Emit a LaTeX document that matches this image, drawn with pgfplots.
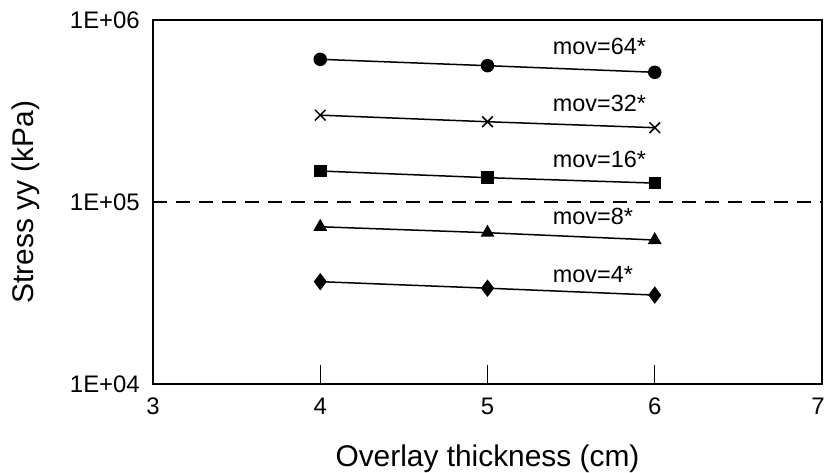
\documentclass[border=0pt]{standalone}
\usepackage{fontspec}
\setmainfont{Liberation Sans}
\usepackage{pgfplots}
\pgfplotsset{compat=1.18}
\begin{document}
\begin{tikzpicture}
\begin{axis}[
  name=ax,
  scale only axis,
  width=669bp, height=364bp,
  xmin=3, xmax=7,
  ymode=log, ymin=1e4, ymax=1e6,
  xtick={3,4,5,6,7},
  xticklabels={3,4,5,6,{\kern-8bp 7}},
  ytick={1e4,1e5,1e6},
  yticklabels={1E+04,1E+05,1E+06},
  tick pos=left,
  tick align=inside,
  xtick style={line width=1.2bp, black},
  major tick length=19bp,
  ytick style={draw=none},
  minor tick num=0,
  axis line style={line width=1.5bp},
  ticklabel style={font=\fontsize{24}{28}\selectfont},
  xticklabel style={anchor=north, inner sep=0pt, yshift=-14bp},
  yticklabel style={anchor=east, inner sep=0pt, xshift=-13bp},
  xlabel={Overlay thickness (cm)},
  ylabel={Stress yy (kPa)},
  label style={font=\fontsize{30}{36}\selectfont},
  xlabel style={at={(axis description cs:0.5,-0.2253)}, anchor=base, inner sep=0pt},
  ylabel style={at={(axis description cs:-0.1898,0.5)}, anchor=center, inner sep=0pt},
  clip=false,
  every axis plot/.append style={black, line width=1.5bp, mark options={solid}},
]
\addplot[line width=1.2bp, dash pattern=on 14bp off 9bp, forget plot] coordinates {(3,1e5) (7,1e5)};
% mov=64
\addplot[mark=*, mark size=6bp] coordinates {(4,608000) (5,561000) (6,516000)};
% mov=32
\addplot[mark=x, mark size=7.5bp, mark options={line width=1.5bp}] coordinates {(4,300000) (5,276000) (6,256000)};
% mov=16
\addplot[mark=square*, mark size=5.5bp] coordinates {(4,148000) (5,136000) (6,127000)};
% mov=8
\addplot[mark=triangle*, mark size=6.5bp] coordinates {(4,73100) (5,67800) (6,61800)};
% mov=4
\addplot[mark=diamond*, mark size=7.5bp] coordinates {(4,36500) (5,33600) (6,30800)};
\begin{scope}[every node/.style={anchor=base west, inner sep=0pt, font=\fontsize{23.5}{28}\selectfont}]
\node at (axis cs:5.39,643000) {mov=64*};
\node at (axis cs:5.39,316000) {mov=32*};
\node at (axis cs:5.39,153900) {mov=16*};
\node at (axis cs:5.39,74800) {mov=8*};
\node at (axis cs:5.39,35900) {mov=4*};
\end{scope}
\end{axis}
\pgfresetboundingbox
\path[use as bounding box] (ax.south west) ++(-153bp,-89bp) rectangle ++(826bp,473bp);
\end{tikzpicture}
\end{document}
